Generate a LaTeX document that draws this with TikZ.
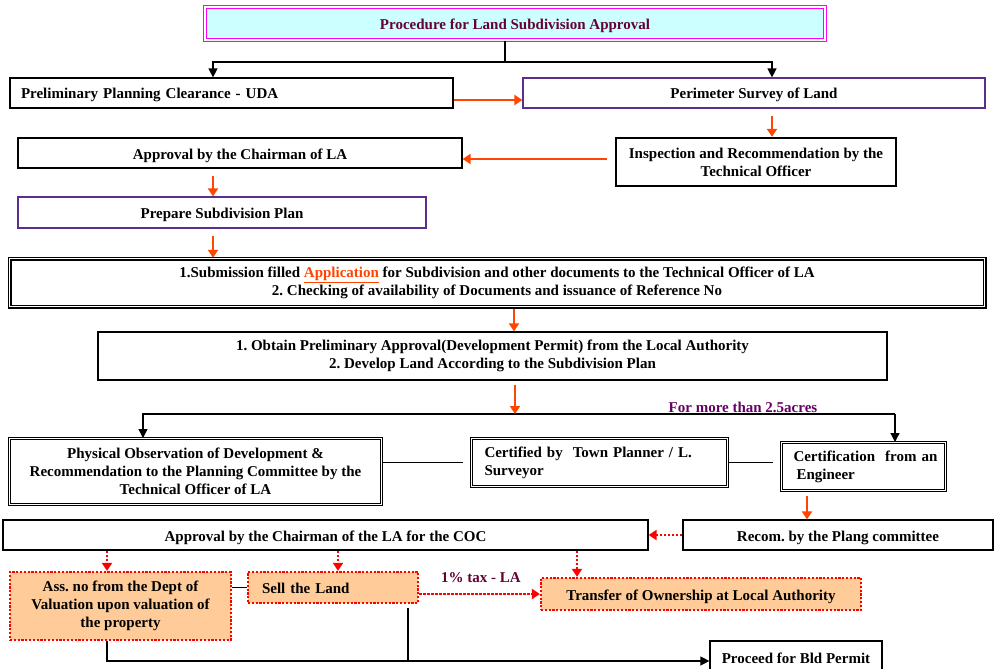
\documentclass[tikz,border=0pt]{standalone}
\usepackage{fontspec}
\setmainfont{Liberation Serif}
\usepackage{tikz}
\usetikzlibrary{shapes,arrows.meta,positioning}
\definecolor{arrowred}{RGB}{255,69,0}
\definecolor{dotred}{RGB}{255,0,0}
\definecolor{peach}{RGB}{255,204,153}
\definecolor{headfill}{RGB}{204,255,255}
\definecolor{headpink}{RGB}{255,0,255}
\definecolor{maroon}{RGB}{102,0,51}
\definecolor{plum}{RGB}{102,0,102}
\definecolor{boxpurple}{RGB}{90,46,140}
\tikzset{
  every node/.style={font=\fontsize{15}{18}\selectfont\bfseries\frenchspacing},
  box/.style={draw, line width=1.2pt, minimum height=30pt, inner sep=0pt, align=center},
  oneline/.style={text height=14pt, text depth=2pt},
  purplebox/.style={box, oneline, draw=boxpurple},
  heavybox/.style={box, line width=2.4pt},
  twinbox/.style={box, double, double distance=1.2pt, line width=1pt},
  peachbox/.style={box, fill=peach, draw=dotred, line width=2.2pt, dash pattern=on 2.2pt off 1.6pt},
  headbox/.style={box, oneline, fill=headfill, draw=headpink, double, double distance=2pt, line width=1.4pt, text=maroon},
  redflow/.style={-{Triangle[length=8pt,width=10pt]}, draw=arrowred, line width=2.6pt},
  dotflow/.style={-{Triangle[length=8pt,width=10pt]}, draw=dotred, line width=2.4pt, dash pattern=on 2.4pt off 1.6pt}
}

\begin{document}
\begin{tikzpicture}[> = {Triangle[length=9pt,width=9pt]}, x=1pt, y=-1pt, line width=1.3pt]
        \useasboundingbox (0,0) rectangle (994,669);
        % columns and forks of the connectors
        \coordinate (lcol)  at (213,0);
        \coordinate (rcol)  at (772,0);
        \coordinate (mcol)  at (514,0);
        \coordinate (qcol)  at (807,0);
        \coordinate (acol)  at (107,0);
        \coordinate (scol)  at (338,0);
        \coordinate (tcol)  at (577,0);
        \coordinate (dcol)  at (408,0);
        \coordinate (fork)  at (505,62);
        \coordinate (split) at (515,414);
        \coordinate (pocol) at (143,414);
        \coordinate (encol) at (895,414);

        \node[headbox, minimum width=620pt, minimum height=33pt] (head) at (515,23.5) {Procedure for Land Subdivision Approval};
        \node[box, oneline, text width=421pt, inner xsep=11pt, align=left] (uda) at (231.5,93) {Preliminary Planning Clearance - UDA};
        \node[purplebox, minimum width=462pt]                      (peri)  at (754,93)     {Perimeter Survey of Land};
        \node[heavybox, minimum width=280pt, minimum height=48pt]  (insp)  at (756,162)    {Inspection and Recommendation by the\\Technical Officer};
        \node[box, oneline, minimum width=444pt]                   (appr)  at (240,153)    {Approval by the Chairman of LA};
        \node[purplebox, minimum width=408pt, minimum height=31pt] (prep)  at (222,212.5)  {Prepare Subdivision Plan};
        \node[twinbox, minimum width=975pt, minimum height=48pt, line width=1.4pt] (sub) at (497,282.5)
             {1.Submission filled \textcolor{arrowred}{\underline{Application}} for Subdivision and other documents to the Technical Officer of LA\\
              2. Checking of availability of Documents and issuance of Reference No};
        \node[box, minimum width=789pt, minimum height=48pt]       (obt)   at (492.5,356)  {1. Obtain Preliminary Approval(Development Permit) from the Local Authority\\
              2. Develop Land According to the Subdivision Plan};
        \node[text=plum]                                           (acres) at (743,407)    {For more than 2.5acres};
        \node[twinbox, minimum width=372pt, minimum height=66pt]   (po)    at (195.5,471.5) {Physical Observation of Development \&\\
              Recommendation to the Planning Committee by the\\Technical Officer of LA};
        \node[twinbox, text width=230pt, inner xsep=13pt, minimum height=48pt, align=left] (cert) at (599.5,462.5)
             {Certified by\ \ Town Planner / L.\\Surveyor};
        \node[twinbox, text width=152pt, inner xsep=6pt, minimum height=48pt, align=left] (eng) at (863.5,466.5)
             {\hspace{6pt}Certification\ \ from an\\\hspace{9pt}Engineer};
        \node[box, oneline, minimum width=310pt]                   (rec)   at (838,535)    {Recom. by the Plang committee};
        \node[box, oneline, minimum width=645pt]                   (coc)   at (325.5,535)  {Approval by the Chairman of the LA for the COC};
        \node[peachbox, minimum width=221pt, minimum height=68pt]  (ass)   at (120.5,606)  {Ass. no from the Dept of\\Valuation upon valuation of\\the property};
        \node[peachbox, oneline, text width=142pt, inner xsep=14pt, minimum height=31pt, align=left] (sell) at (333,587.5) {Sell the Land};
        \node[peachbox, oneline, minimum width=320pt, minimum height=32pt] (trans) at (701,594) {Transfer of Ownership at Local Authority};
        \node[text=maroon]                                         (tax)   at (481,578)    {1\% tax - LA};
        \node[box, oneline, minimum width=172pt, minimum height=32pt] (proc) at (796,657)  {Proceed for Bld Permit};

        % black connectors
        \draw (head.south -| fork) -- (fork);
        \draw[->] (fork) -| (uda.north -| lcol);
        \draw[->] (fork) -| (peri.north -| rcol);
        \draw[->] (encol) -- (pocol) -- (po.north -| pocol);
        \draw[->] (encol) -- (eng.north -| encol);
        \draw[shorten >=8pt] (po.east |- cert.west) -- (cert.west);
        \draw[shorten >=8pt] (cert.east) -- (cert.east -| eng.west);
        \draw (sell.west) -- (sell.west -| ass.east);
        \draw[->] (ass.south -| acol) |- ([yshift=-4pt]proc.west);
        \draw[shorten <=4pt] (sell.south -| dcol) -- ([yshift=-4pt]proc.west -| dcol);

        % red arrows
        \draw[redflow] ([yshift=-7pt]uda.east) -- ([yshift=-7pt]peri.west);
        \draw[redflow, shorten <=7pt] (peri.south -| rcol) -- (insp.north -| rcol);
        \draw[redflow, shorten <=8pt] ([yshift=3pt]insp.west) -- ([yshift=3pt]insp.west -| appr.east);
        \draw[redflow, shorten <=7pt] (appr.south -| lcol) -- (prep.north -| lcol);
        \draw[redflow, shorten <=7pt] (prep.south -| lcol) -- (sub.north -| lcol);
        \draw[redflow, shorten <=2pt] (sub.south -| mcol) -- (obt.north -| mcol);
        \draw[redflow, shorten <=4pt] (obt.south -| split) -- (split);
        \draw[redflow, shorten <=5pt] (eng.south -| qcol) -- (rec.north -| qcol);

        % dotted arrows
        \draw[dotflow] (rec.west) -- (coc.east);
        \draw[dotflow] (coc.south -| acol) -- (ass.north -| acol);
        \draw[dotflow] (coc.south -| scol) -- (sell.north -| scol);
        \draw[dotflow] (coc.south -| tcol) -- (trans.north -| tcol);
        \draw[dotflow] (trans.west -| sell.east) -- (trans.west);
\end{tikzpicture}
\end{document}
